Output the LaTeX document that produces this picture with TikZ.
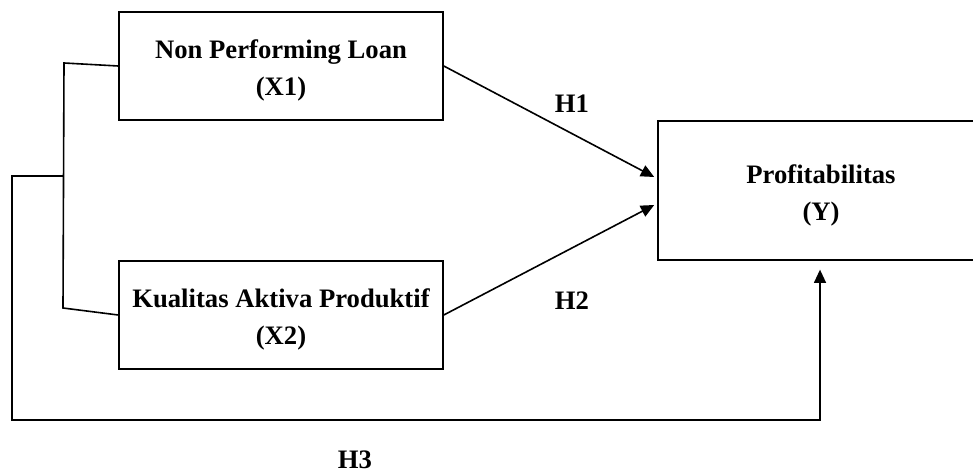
\documentclass[tikz,border=0pt]{standalone}
\usepackage{fontspec}
\setmainfont{Liberation Serif}
\usetikzlibrary{calc,arrows.meta}
\tikzset{
  varbox/.style={draw,line width=1.2pt,minimum width=243pt,minimum height=81pt,
    align=center,inner sep=0pt,text height=48.8pt,text depth=4.3pt,
    font=\fontsize{20}{27.75}\selectfont\bfseries},
  hlabel/.style={font=\fontsize{20}{24}\selectfont\bfseries},
  link/.style={line width=1.2pt},
  arr/.style={link,-{Triangle[length=10pt,width=9pt]}}
}
\begin{document}
\begin{tikzpicture}[x=0.75pt,y=-0.75pt]
            \useasboundingbox (0,0) rectangle (973,473);

            % 变量框
            \node[varbox] (x1) at (281,66) {Non Performing Loan\\(X1)};
            \node[varbox] (x2) at (281,315) {Kualitas Aktiva Produktif\\(X2)};
            \node[varbox,minimum width=244.5pt,minimum height=104pt] (y) at (821,190.5) {Profitabilitas\\(Y)};

            % 左边的括号
            \coordinate (bt) at (64,63);
            \coordinate (bb) at (63,308);
            \coordinate (j) at (63,176);
            \draw[link] (x1.west) -- (bt) -- (bb) -- (x2.west);

            % 外面的线 H3
            \coordinate (sudut) at (12,420);
            \coordinate (yin) at ($(y.south)+(-1,9)$);
            \draw[arr] (j) -| (sudut) -| (yin);

            % 箭头 H1, H2
            \draw[arr] (x1.east) -- ($(y.west)+(-3,-13.5)$);
            \draw[arr] (x2.east) -- ($(y.west)+(-3,14.5)$);

            % 标注
            \node[hlabel] (h1) at (572,104) {H1};
            \node[hlabel] (h2) at (572,301) {H2};
            \node[hlabel] (h3) at (355,460) {H3};
        \end{tikzpicture}
\end{document}
